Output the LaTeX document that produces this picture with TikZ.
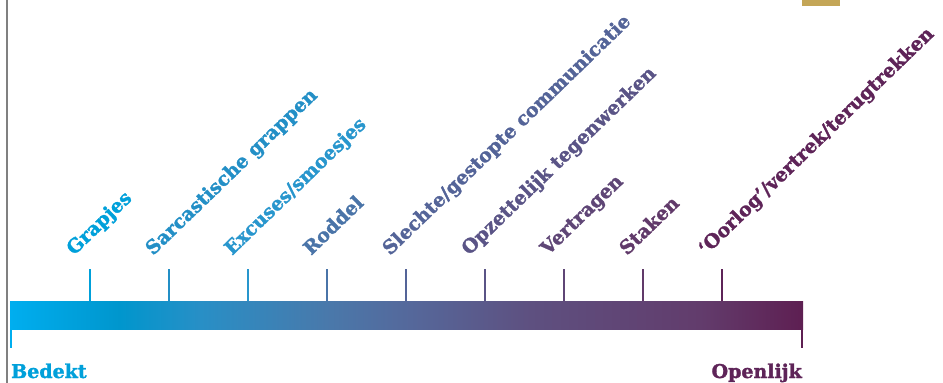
\documentclass[tikz,border=0pt]{standalone}
\usepackage{fontspec}
\usepackage{tikz}
\usetikzlibrary{calc}
\newfontfamily\lblfont{DejaVu Serif}[BoldFont={DejaVu Serif Bold}, BoldFeatures={FakeBold=1.6}]
\definecolor{cyanstart}{RGB}{0,174,239}
\definecolor{cyanmid}{RGB}{0,150,205}
\definecolor{blueA}{RGB}{40,143,198}
\definecolor{blueB}{RGB}{74,120,170}
\definecolor{blueC}{RGB}{85,104,155}
\definecolor{plumA}{RGB}{94,80,128}
\definecolor{plumB}{RGB}{98,60,108}
\definecolor{plumend}{RGB}{94,31,82}
\definecolor{sidegray}{RGB}{128,128,128}
\definecolor{gold}{RGB}{196,166,87}
% tick / label colours
\definecolor{c1}{RGB}{0,160,218}
\definecolor{c2}{RGB}{35,143,198}
\definecolor{c3}{RGB}{40,150,205}
\definecolor{c4}{RGB}{74,116,168}
\definecolor{c5}{RGB}{84,100,152}
\definecolor{c6}{RGB}{90,84,134}
\definecolor{c7}{RGB}{95,70,118}
\definecolor{c8}{RGB}{97,58,106}
\definecolor{c9}{RGB}{94,36,88}
\pgfdeclarehorizontalshading{bedektopenlijk}{100bp}{
    color(0bp)=(cyanstart); color(25bp)=(cyanstart);
    color(31.9bp)=(cyanmid); color(37bp)=(blueA);
    color(45.2bp)=(blueB); color(50.2bp)=(blueC);
    color(57.8bp)=(plumA); color(68.5bp)=(plumB);
    color(75bp)=(plumend); color(100bp)=(plumend)}

\begin{document}
\begin{tikzpicture}[
    x=1pt, y=-1pt,
    bar/.style={rectangle, draw=none, shading=bedektopenlijk, minimum width=793pt, minimum height=28pt, inner sep=0pt, anchor=north west},
    tick/.style={line width=2.4pt},
    lbl/.style={font=\lblfont\bfseries\fontsize{19}{22}\selectfont, anchor=base west, rotate=44, inner sep=0pt},
    endlbl/.style={font=\lblfont\bfseries\fontsize{19}{22}\selectfont, inner sep=0pt}
]
\useasboundingbox (0,0) rectangle (943,383);

% side line and corner mark
\draw[sidegray, line width=2pt] (7,0) -- (7,383);
\fill[gold] (802,0) rectangle (840,6);

% Scale bar
\node[bar] (bar) at (10,301) {};

% Ticks and labels
\foreach \i/\x/\lbl in {1/90/Grapjes, 2/169/Sarcastische grappen, 3/248/{Excuses/smoesjes}, 4/327/Roddel, 5/406/{Slechte/gestopte communicatie}, 6/485/{Opzettelijk tegenwerken}, 7/564/Vertragen, 8/643/Staken, 9/722/{‘Oorlog’/vertrek/terugtrekken}} {
    \coordinate (t\i) at (\x,301);
    \draw[tick, c\i] (t\i) -- ++(0,-32);
    \node[lbl, text=c\i] (l\i) at ($(t\i)+(-16,-45)$) {\lbl};
}

% End marks
\coordinate (s0) at ([xshift=1.2pt]bar.south west);
\coordinate (s1) at ([xshift=-1.2pt]bar.south east);
\draw[tick, cyanstart] (s0) -- ++(0,19);
\draw[tick, plumend] (s1) -- ++(0,19);
\node[endlbl, text=c1, anchor=base west] (bedekt) at (11,378) {Bedekt};
\node[endlbl, text=c9, anchor=base east] (openlijk) at (802,378) {Openlijk};

\end{tikzpicture}
\end{document}
